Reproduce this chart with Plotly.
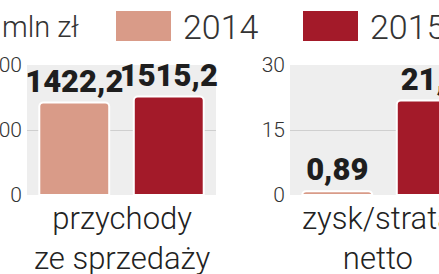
import plotly.graph_objects as go

# ---- data ----
years = ["2014", "2015"]
panel_titles = ["przychody<br>ze sprzedaży", "zysk/strata<br>netto"]
revenue = [1422.2, 1515.2]
profit = [0.89, 21.8]
revenue_labels = ["1422,2", "1515,2"]
profit_labels = ["0,89", "21,8"]
rev_ticks = [0, 1000, 2000]
prof_ticks = [0, 15, 30]
unit_label = "mln zł"

colors = ["#d99b88", "#a31a29"]

W, H = 439, 274
def px(x): return x / W
def py(y): return (H - y) / H

fig = go.Figure()

val_font = dict(family="Roboto", size=31, color="#1e1e1e", weight=900)

fig.add_trace(go.Bar(
    x=[0, 1], y=revenue, marker=dict(color=colors, line=dict(color="white", width=2), cornerradius=4),
    width=0.74, text=revenue_labels, textposition="outside", textfont=val_font,
    cliponaxis=False, constraintext="none", xaxis="x", yaxis="y", showlegend=False,
    hoverinfo="skip"))
fig.add_trace(go.Bar(
    x=[0, 1], y=profit, marker=dict(color=colors, line=dict(color="white", width=2), cornerradius=4),
    width=0.74, text=profit_labels, textposition="outside", textfont=val_font,
    cliponaxis=False, constraintext="none", xaxis="x2", yaxis="y2", showlegend=False,
    hoverinfo="skip"))

tick_font = dict(family="Roboto", size=21, color="#333333", weight=300)
ybot, ytop = py(195), py(65)

fig.update_layout(
    width=W, height=H, margin=dict(l=0, r=0, t=0, b=0),
    paper_bgcolor="white", plot_bgcolor="#eeeeee",
    font=dict(family="Roboto"),
    xaxis=dict(domain=[px(27), px(216)], range=[-0.5, 1.5], showticklabels=False,
               showgrid=False, zeroline=False, fixedrange=True),
    yaxis=dict(domain=[ybot, ytop], range=[0, 2000], tickvals=rev_ticks,
               ticktext=[str(t) for t in rev_ticks], tickfont=tick_font, ticklen=0,
               showgrid=True, gridcolor="#cfcfcf", gridwidth=1, zeroline=False,
               automargin=False, ticklabelstandoff=4),
    xaxis2=dict(domain=[px(290), 1], range=[-0.5, -0.5 + 149 / 94.5], showticklabels=False,
                showgrid=False, zeroline=False, anchor="y2"),
    yaxis2=dict(domain=[ybot, ytop], range=[0, 30], tickvals=prof_ticks,
                ticktext=[str(t) for t in prof_ticks], tickfont=tick_font, ticklen=0,
                showgrid=True, gridcolor="#cfcfcf", gridwidth=1, zeroline=False,
                anchor="x2", automargin=False, ticklabelstandoff=4),
)

# legend (custom swatches)
sw_x = [(115, 172), (302, 359)]
for (x0, x1), c, yr in zip(sw_x, colors, years):
    fig.add_shape(type="rect", xref="paper", yref="paper", x0=px(x0), x1=px(x1),
                  y0=py(42), y1=py(10), fillcolor=c, line=dict(color="white", width=2))
    fig.add_annotation(x=px(x1 + 9), y=py(27), xref="paper", yref="paper", text=yr,
                       showarrow=False, xanchor="left", yanchor="middle",
                       font=dict(family="Roboto", size=34, color="#333333", weight=300))

fig.add_annotation(x=0, y=py(27), xref="paper", yref="paper", text=unit_label,
                   showarrow=False, xanchor="left", yanchor="middle",
                   font=dict(family="Roboto", size=29, color="#333333", weight=300))

cat_x = [px(122), px(378)]
for cx, t in zip(cat_x, panel_titles):
    fig.add_annotation(x=cx, y=py(198), xref="paper", yref="paper", text=t,
                       showarrow=False, xanchor="center", yanchor="top",
                       font=dict(family="Roboto", size=31, color="#222222", weight=300))

fig.write_html("out.html")
